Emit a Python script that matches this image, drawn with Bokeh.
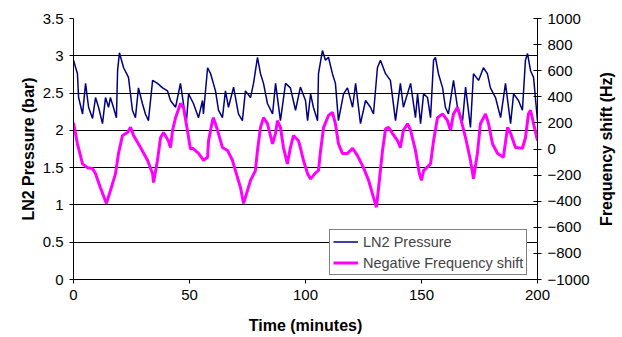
from bokeh.plotting import figure
from bokeh.layouts import row
from bokeh.models import Range1d, LinearAxis, FixedTicker, NumeralTickFormatter
from bokeh.embed import file_html
from bokeh.resources import INLINE

# LN2 pressure (bar), left axis
time_p = [0, 1.7, 2.2, 3.9, 5.2, 6.5, 8.2, 9.5, 10.8, 12.5, 13.8, 15.1, 15.9, 17.2, 18.5,
          19.0, 19.8, 21.6, 23.7, 25.4, 26.7, 28.0, 29.7, 31.0, 32.3, 34.1, 36.2, 38.4,
          40.5, 41.8, 44.0, 46.1, 47.8, 48.7, 49.6, 51.7, 53.9, 55.6, 56.0, 57.8, 59.1,
          61.2, 62.5, 64.2, 65.5, 66.8, 69.0, 71.1, 72.8, 74.1, 76.3, 77.6, 79.3, 80.6,
          81.9, 83.6, 85.8, 87.1, 89.2, 91.4, 93.5, 95.7, 97.8, 100.0, 100.9, 102.2,
          103.4, 105.2, 105.6, 107.3, 108.6, 109.9, 111.6, 112.9, 114.2, 116.4, 118.1,
          120.3, 121.6, 123.7, 125.9, 128.0, 129.3, 131.0, 132.3, 134.5, 136.6, 138.8,
          140.9, 142.2, 145.3, 147.4, 148.3, 149.6, 150.9, 152.6, 153.9, 155.2, 156.0,
          157.3, 159.1, 160.3, 161.6, 163.8, 165.5, 167.7, 169.0, 171.1, 172.4, 174.6,
          176.7, 178.4, 179.7, 181.9, 184.1, 186.2, 188.4, 189.7, 191.8, 193.5, 194.8,
          195.7, 197.0, 198.3, 200.0]
pressure = [2.94, 2.76, 2.44, 2.22, 2.63, 2.31, 2.16, 2.44, 2.31, 2.09, 2.44, 2.31, 2.44,
            2.31, 2.17, 2.80, 3.04, 2.84, 2.71, 2.27, 2.17, 2.57, 2.36, 2.22, 2.13, 2.67,
            2.63, 2.57, 2.53, 2.40, 2.31, 2.63, 2.27, 2.13, 2.49, 2.36, 2.17, 2.40, 2.22,
            2.84, 2.76, 2.53, 2.27, 2.17, 2.53, 2.31, 2.58, 2.22, 2.13, 2.53, 2.44, 2.63,
            2.98, 2.76, 2.63, 2.36, 2.22, 2.63, 2.13, 2.63, 2.57, 2.27, 2.58, 2.40, 2.13,
            2.49, 2.31, 2.13, 2.76, 3.07, 2.94, 2.98, 2.76, 2.63, 2.13, 2.49, 2.57, 2.31,
            2.63, 2.09, 2.40, 2.31, 2.22, 2.84, 2.94, 2.76, 2.67, 2.13, 2.63, 2.31, 2.63,
            2.17, 2.49, 2.09, 2.49, 2.44, 2.17, 2.94, 2.98, 2.76, 2.57, 2.31, 2.22, 2.67,
            2.31, 2.13, 2.58, 2.04, 2.76, 2.67, 2.84, 2.76, 2.57, 2.44, 2.17, 2.63, 2.09,
            2.49, 2.40, 2.27, 2.94, 3.03, 2.80, 2.71, 2.13]

# Negative frequency shift (Hz), right axis
time_f = [0, 1.7, 3.9, 6.0, 8.2, 9.5, 11.6, 14.2, 15.9, 18.1, 19.4, 21.1, 23.3, 24.6, 25.9,
          28.9, 31.9, 34.1, 34.5, 36.2, 37.5, 38.8, 40.9, 41.8, 42.7, 44.0, 46.1, 47.4,
          49.1, 50.4, 51.3, 53.9, 56.0, 57.8, 58.2, 59.9, 60.3, 62.1, 64.2, 66.4, 68.5,
          69.8, 72.0, 73.3, 74.1, 76.3, 78.4, 79.3, 80.6, 81.9, 83.6, 85.8, 87.1, 87.9,
          89.2, 90.5, 92.2, 93.5, 94.8, 97.0, 97.8, 99.1, 100.9, 102.2, 104.3, 105.6,
          106.5, 107.8, 109.9, 111.6, 112.9, 114.2, 115.9, 118.1, 120.3, 122.4, 125.0,
          127.2, 129.3, 130.6, 131.5, 133.2, 134.5, 135.8, 137.5, 139.7, 140.9, 142.2,
          144.0, 145.3, 147.4, 149.1, 150.0, 150.9, 153.9, 155.2, 156.9, 159.1, 161.2,
          162.5, 163.8, 165.5, 166.8, 169.0, 171.1, 172.4, 174.1, 175.4, 177.6, 178.9,
          180.6, 182.8, 185.3, 187.1, 188.4, 190.5, 193.5, 194.8, 196.1, 197.0, 198.3,
          200.0]
freq = [200, 40, -114, -143, -149, -189, -297, -417, -320, -189, -34, 103, 126, 166, 103,
        11, -86, -189, -257, -86, 86, 126, 63, 11, 143, 240, 349, 320, 143, 0, 6, -34, -86,
        -63, 63, 217, 240, 143, 11, -11, -86, -166, -297, -417, -371, -240, -166, -11, 166,
        240, 194, 40, 120, 217, 166, 11, -114, 11, 103, 63, 11, -86, -189, -229, -183,
        -166, -11, 166, 257, 280, 194, 40, -34, -34, 6, -51, -143, -240, -371, -446, -297,
        -11, 154, 166, 120, 63, 11, 143, 194, 143, -11, -189, -240, -166, -114, 63, 240,
        269, 217, 143, 269, 320, 240, 86, -86, -229, -34, 194, 269, 194, 40, -34, -63, 166,
        120, 11, 6, 86, 269, 297, 194, 63]

x_ticks = [0, 50, 100, 150, 200]
y_ticks = [0, 0.5, 1, 1.5, 2, 2.5, 3, 3.5]
f_ticks = [-1000, -800, -600, -400, -200, 0, 200, 400, 600, 800, 1000]

FONT = "Liberation Sans"
H = 336

p = figure(width=592, height=H, output_backend="svg", toolbar_location=None,
           x_range=Range1d(0, 200), y_range=Range1d(0, 3.5),
           min_border_left=73, min_border_right=55, min_border_top=18, min_border_bottom=57,
           background_fill_color="white", border_fill_color="white")
p.outline_line_color = None
p.extra_y_ranges = {"freq": Range1d(-1000, 1000)}

# lines
p.line(time_p, pressure, line_color="#000080", line_width=1.5, legend_label="LN2 Pressure")
p.line(time_f, freq, line_color="#FF00FF", line_width=3, y_range_name="freq",
       legend_label="Negative Frequency shift")

# grid
p.xgrid.visible = False
p.ygrid.ticker = FixedTicker(ticks=y_ticks)
p.ygrid.grid_line_color = "black"
p.ygrid.grid_line_width = 1

xa = p.xaxis[0]
xa.ticker = FixedTicker(ticks=x_ticks)
xa.axis_label = "Time (minutes)"
ya = p.yaxis[0]
ya.ticker = FixedTicker(ticks=y_ticks)
ya.formatter = NumeralTickFormatter(format="0.[0]")
ya.axis_label = "LN2 Pressure (bar)"

ra = LinearAxis(y_range_name="freq", ticker=FixedTicker(ticks=f_ticks))
p.add_layout(ra, "right")

for ax in (xa, ya, ra):
    ax.axis_line_color = "black"
    ax.major_tick_line_color = "black"
    ax.minor_tick_line_color = None
    ax.major_tick_out = 4
    ax.major_tick_in = 0
    ax.major_label_standoff = 6
    ax.major_label_text_font = FONT
    ax.major_label_text_font_size = "15px"
    ax.major_label_text_color = "black"
    ax.axis_label_text_font = FONT
    ax.axis_label_text_font_size = "16px"
    ax.axis_label_text_font_style = "bold"
    ax.axis_label_text_color = "black"

ra.major_tick_in = 4
xa.axis_label_standoff = 14
ya.axis_label_standoff = 3

lg = p.legend[0]
lg.location = (256, 4)
lg.margin = 0
lg.padding = 3
lg.spacing = 4
lg.glyph_width = 25
lg.glyph_height = 17
lg.label_height = 17
lg.label_standoff = 5
lg.label_text_font = FONT
lg.label_text_font_size = "14.5px"
lg.border_line_color = "black"
lg.border_line_width = 1
lg.background_fill_color = "white"
lg.background_fill_alpha = 1

# narrow companion figure that carries the right-hand axis title (reads bottom to top)
p2 = figure(width=30, height=H, output_backend="svg", toolbar_location=None,
            x_range=Range1d(0, 1), y_range=Range1d(-1000, 1000), x_axis_location=None,
            min_border_left=24, min_border_right=0, min_border_top=18, min_border_bottom=57,
            background_fill_color="white", border_fill_color="white")
p2.outline_line_color = None
p2.grid.visible = False
ta = p2.yaxis[0]
ta.ticker = FixedTicker(ticks=[])
ta.axis_line_color = None
ta.major_tick_line_color = None
ta.minor_tick_line_color = None
ta.axis_label = "Frequency shift (Hz)"
ta.axis_label_standoff = 2
ta.axis_label_text_font = FONT
ta.axis_label_text_font_size = "16px"
ta.axis_label_text_font_style = "bold"
ta.axis_label_text_color = "black"

layout = row(p, p2, spacing=0)
open("out.html", "w").write(file_html(layout, INLINE))
